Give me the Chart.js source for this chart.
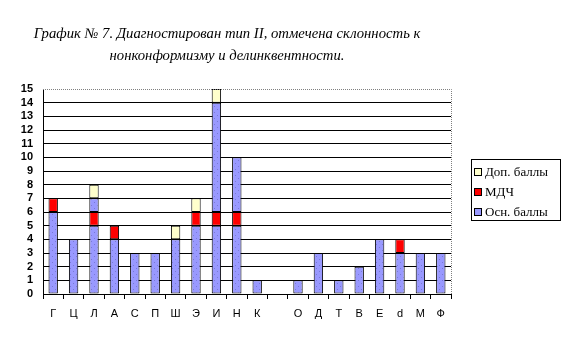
<!DOCTYPE html>
<html>
<head>
<meta charset="utf-8">
<script src="https://cdn.jsdelivr.net/npm/chart.js@4.4.1/dist/chart.umd.min.js"></script>
<style>
  html, body { margin: 0; padding: 0; background: #fff; }
  #wrap { position: relative; width: 567px; height: 341px; }
  #title {
    position: absolute; left: 0; top: 22px; width: 454px; text-align: center;
    font-family: "Liberation Serif", serif; font-style: italic; font-size: 14.7px;
    line-height: 22px; color: #000;
  }
  #legend {
    position: absolute; left: 471px; top: 159px; width: 88px; height: 60px;
    border: 1px solid #000; font-family: "Liberation Serif", serif; font-size: 13px;
  }
  #legend div { position: absolute; left: 2px; height: 14px; line-height: 14px; white-space: nowrap; }
  #legend span.box {
    display: inline-block; width: 6px; height: 6px; border: 1px solid #000;
    margin-right: 3px; vertical-align: 0px;
  }
</style>
</head>
<body>
<div id="wrap">
  <canvas id="myChart" width="567" height="341"></canvas>
  <div id="title">График № 7. Диагностирован тип II, отмечена склонность к<br>нонконформизму и делинквентности.</div>
  <div id="legend"></div>
</div>
<script>
// Данные графика
const categories = ["Г", "Ц", "Л", "А", "С", "П", "Ш", "Э", "И", "Н", "К", "", "О", "Д", "Т", "В", "Е", "d", "М", "Ф"];
const osnBally = [6, 4, 5, 4, 3, 3, 4, 5, 5, 5, 1, null, 1, 3, 1, 2, 4, 3, 3, 3];
const mdch = [1, null, 1, 1, null, null, null, 1, 1, 1, null, null, null, null, null, null, null, 1, null, null];
const osnBally2 = [null, null, 1, null, null, null, null, null, 8, 4, null, null, null, null, null, null, null, null, null, null];
const dopBally = [null, null, 1, null, null, null, 1, 1, 1, null, null, null, null, null, null, null, null, null, null, null];
const yTicks = [0, 1, 2, 3, 4, 5, 6, 7, 8, 9, 10, 11, 12, 13, 14, 15];

// Заливка синим с точками, как в Excel
function dotPattern() {
  const c = document.createElement("canvas");
  c.width = 6; c.height = 6;
  const g = c.getContext("2d");
  g.fillStyle = "#9999ff";
  g.fillRect(0, 0, 6, 6);
  g.fillStyle = "#7a7ad6";
  g.fillRect(1, 1, 1, 1);
  g.fillRect(4, 4, 1, 1);
  return g.createPattern(c, "repeat");
}
const blue = dotPattern();

// Пунктирная рамка сверху и справа
const frameBorder = {
  id: "frameBorder",
  afterDraw(chart) {
    const { ctx, chartArea } = chart;
    ctx.save();
    ctx.strokeStyle = "#808080";
    ctx.lineWidth = 1;
    ctx.setLineDash([1, 1]);
    ctx.beginPath();
    ctx.moveTo(chartArea.left, chartArea.top + 0.5);
    ctx.lineTo(chartArea.right + 0.5, chartArea.top + 0.5);
    ctx.lineTo(chartArea.right + 0.5, chartArea.bottom);
    ctx.stroke();
    ctx.restore();
  }
};

const barCommon = {
  borderColor: "#000",
  borderWidth: 1,
  borderSkipped: false,
  categoryPercentage: 1,
  barPercentage: 0.46,
};

const datasets = [
  { label: "Осн. баллы", data: osnBally, backgroundColor: blue, legendColor: "#9999ff", ...barCommon },
  { label: "МДЧ", data: mdch, backgroundColor: "#ff0000", legendColor: "#ff0000", ...barCommon },
  { label: "", data: osnBally2, backgroundColor: blue, hideInLegend: true, ...barCommon },
  { label: "Доп. баллы", data: dopBally, backgroundColor: "#ffffcc", legendColor: "#ffffcc", ...barCommon },
];

new Chart(document.getElementById("myChart").getContext("2d"), {
  type: "bar",
  data: { labels: categories, datasets: datasets },
  options: {
    responsive: false,
    animation: false,
    layout: { padding: { left: 0, top: 89, right: 116, bottom: 17 } },
    plugins: { legend: { display: false }, title: { display: false }, tooltip: { enabled: false } },
    scales: {
      x: {
        stacked: true,
        afterFit: (s) => { s.height = 30; },
        grid: { drawOnChartArea: false, drawTicks: true, tickLength: 5, color: "#000", offset: true },
        border: { color: "#000", width: 1 },
        ticks: { color: "#000", padding: 8, font: { family: "Liberation Sans", size: 11 }, maxRotation: 0, autoSkip: false },
      },
      y: {
        stacked: true,
        min: 0,
        max: 15,
        afterFit: (s) => { s.width = 43; },
        afterBuildTicks: (s) => { s.ticks = yTicks.map((v) => ({ value: v })); },
        grid: { color: (c) => (c.tick && c.tick.value === 15 ? "rgba(0,0,0,0)" : "#000"), drawTicks: false },
        border: { color: "#000", width: 1 },
        ticks: { color: "#000", padding: 10, autoSkip: false, font: { family: "Liberation Sans", size: 11, weight: "bold" } },
      },
    },
  },
  plugins: [frameBorder],
});

// Легенда в рамке (порядок как в Excel: сверху вниз)
const legend = document.getElementById("legend");
datasets.filter((d) => !d.hideInLegend).reverse().forEach((d, i) => {
  const row = document.createElement("div");
  row.style.top = (5 + i * 20) + "px";
  row.innerHTML = '<span class="box" style="background:' + d.legendColor + '"></span>' + d.label;
  legend.appendChild(row);
});
</script>
</body>
</html>
